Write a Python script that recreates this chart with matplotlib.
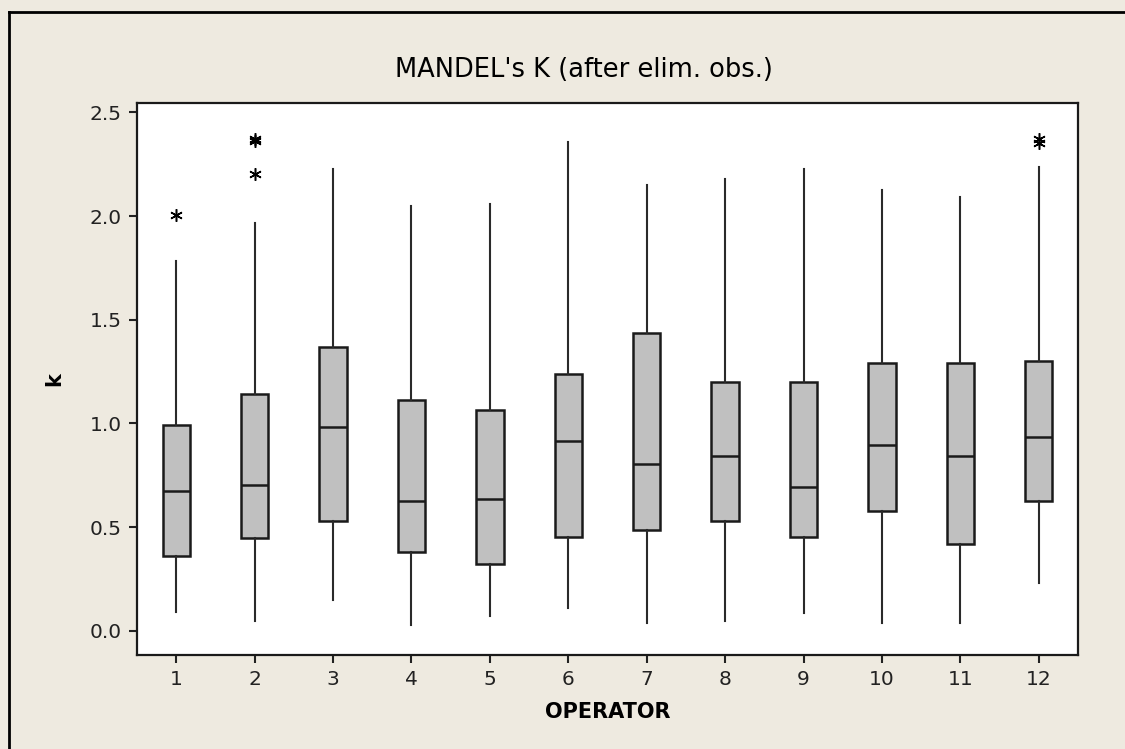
import matplotlib
matplotlib.use('Agg')
import matplotlib.pyplot as plt
from matplotlib.lines import Line2D

# box statistics
operators = [1, 2, 3, 4, 5, 6, 7, 8, 9, 10, 11, 12]
whisker_low = [0.09, 0.05, 0.15, 0.03, 0.07, 0.11, 0.04, 0.05, 0.085, 0.04, 0.04, 0.23]
q1 = [0.36, 0.447, 0.532, 0.382, 0.324, 0.455, 0.485, 0.53, 0.455, 0.577, 0.418, 0.625]
medians = [0.673, 0.702, 0.983, 0.625, 0.635, 0.916, 0.805, 0.842, 0.692, 0.898, 0.842, 0.936]
q3 = [0.991, 1.142, 1.367, 1.113, 1.067, 1.237, 1.435, 1.2, 1.2, 1.293, 1.293, 1.301]
whisker_high = [1.785, 1.965, 2.227, 2.048, 2.058, 2.357, 2.149, 2.178, 2.227, 2.125, 2.093, 2.238]
outliers = [[2.005], [2.202, 2.36, 2.37], [], [], [], [], [], [], [], [], [], [2.35, 2.37]]

bg = '#EEEAE0'
plt.rcParams['font.family'] = 'DejaVu Sans'

fig = plt.figure(figsize=(11.25, 7.49), dpi=100, facecolor=bg)
ax = fig.add_axes([0.1218, 0.1255, 0.8364, 0.737])
ax.set_facecolor('white')

stats = []
for i in range(len(operators)):
    stats.append({'whislo': whisker_low[i], 'q1': q1[i], 'med': medians[i], 'q3': q3[i],
                  'whishi': whisker_high[i], 'fliers': outliers[i]})

ax.bxp(stats, positions=operators, widths=0.35, patch_artist=True, showcaps=False,
       boxprops=dict(facecolor='#C0C0C0', edgecolor='#1a1a1a', linewidth=1.8),
       medianprops=dict(color='#1a1a1a', linewidth=1.8),
       whiskerprops=dict(color='#2a2a2a', linewidth=1.5),
       flierprops=dict(marker=(6, 2, 0), markersize=9, markeredgecolor='black',
                       markeredgewidth=1.1, linestyle='none'))

ax.set_xlim(0.5, 12.5)
ax.set_ylim(-0.116, 2.545)
ax.set_xticks(operators)
ax.set_xticklabels([str(o) for o in operators])
ax.set_yticks([0.0, 0.5, 1.0, 1.5, 2.0, 2.5])
ax.set_yticklabels(['0.0', '0.5', '1.0', '1.5', '2.0', '2.5'])
ax.tick_params(direction='out', length=6, width=1.5, labelsize=14.5, colors='#222222', pad=5)
for s in ax.spines.values():
    s.set_linewidth(1.6)
    s.set_color('#1a1a1a')

ax.set_xlabel('OPERATOR', fontsize=15, fontweight='bold', labelpad=9)
ax.set_ylabel('k', fontsize=15, fontweight='bold', labelpad=18)
fig.text(0.519, 0.907, "MANDEL's K (after elim. obs.)", fontsize=18.5, ha='center', va='center')

# outer frame lines (left and top edges of the graph window)
fig.add_artist(Line2D([8.5 / 1125, 8.5 / 1125], [0, 1 - 12 / 749], color='black', lw=2,
                      transform=fig.transFigure))
fig.add_artist(Line2D([8.5 / 1125, 1], [1 - 12 / 749, 1 - 12 / 749], color='black', lw=2,
                      transform=fig.transFigure))

fig.savefig('out.png', dpi=100, facecolor=bg)
